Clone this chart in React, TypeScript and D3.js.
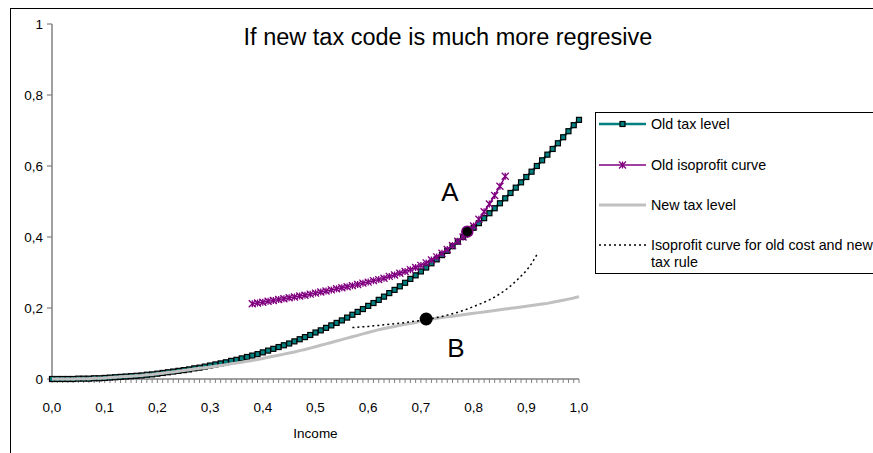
import * as d3 from "d3";

// x categories (income), one every 0.01
const income = [
  0.0, 0.01, 0.02, 0.03, 0.04, 0.05, 0.06, 0.07, 0.08, 0.09,
  0.1, 0.11, 0.12, 0.13, 0.14, 0.15, 0.16, 0.17, 0.18, 0.19,
  0.2, 0.21, 0.22, 0.23, 0.24, 0.25, 0.26, 0.27, 0.28, 0.29,
  0.3, 0.31, 0.32, 0.33, 0.34, 0.35, 0.36, 0.37, 0.38, 0.39,
  0.4, 0.41, 0.42, 0.43, 0.44, 0.45, 0.46, 0.47, 0.48, 0.49,
  0.5, 0.51, 0.52, 0.53, 0.54, 0.55, 0.56, 0.57, 0.58, 0.59,
  0.6, 0.61, 0.62, 0.63, 0.64, 0.65, 0.66, 0.67, 0.68, 0.69,
  0.7, 0.71, 0.72, 0.73, 0.74, 0.75, 0.76, 0.77, 0.78, 0.79,
  0.8, 0.81, 0.82, 0.83, 0.84, 0.85, 0.86, 0.87, 0.88, 0.89,
  0.9, 0.91, 0.92, 0.93, 0.94, 0.95, 0.96, 0.97, 0.98, 0.99,
  1.0,
];

const xTicks = [0, 0.1, 0.2, 0.3, 0.4, 0.5, 0.6, 0.7, 0.8, 0.9, 1];
const xTickLabels = ["0,0", "0,1", "0,2", "0,3", "0,4", "0,5", "0,6", "0,7", "0,8", "0,9", "1,0"];
const yTicks = [0, 0.2, 0.4, 0.6, 0.8, 1];
const yTickLabels = ["0", "0,2", "0,4", "0,6", "0,8", "1"];

const oldTax = [
  0, 0, 0, 0, 0, 0.001, 0.001, 0.001, 0.002, 0.002,
  0.003, 0.004, 0.005, 0.006, 0.007, 0.008, 0.009, 0.01, 0.012, 0.013,
  0.015, 0.017, 0.019, 0.021, 0.023, 0.025, 0.027, 0.03, 0.032, 0.035,
  0.038, 0.041, 0.044, 0.047, 0.051, 0.054, 0.058, 0.062, 0.066, 0.07,
  0.075, 0.08, 0.085, 0.09, 0.095, 0.1, 0.106, 0.112, 0.118, 0.124,
  0.131, 0.137, 0.144, 0.151, 0.158, 0.165, 0.173, 0.181, 0.189, 0.197,
  0.206, 0.214, 0.223, 0.232, 0.242, 0.251, 0.261, 0.271, 0.282, 0.292,
  0.303, 0.314, 0.326, 0.337, 0.349, 0.361, 0.374, 0.387, 0.4, 0.413,
  0.426, 0.439, 0.453, 0.467, 0.481, 0.495, 0.509, 0.524, 0.539, 0.554,
  0.569, 0.584, 0.6, 0.616, 0.632, 0.648, 0.664, 0.681, 0.698, 0.715,
  0.73,
];

const newTax = [
  0, 0, 0, 0, 0, 0.001, 0.001, 0.001, 0.002, 0.002,
  0.003, 0.004, 0.005, 0.006, 0.007, 0.008, 0.009, 0.01, 0.012, 0.013,
  0.015, 0.016, 0.018, 0.02, 0.022, 0.024, 0.026, 0.028, 0.03, 0.032,
  0.034, 0.036, 0.038, 0.04, 0.043, 0.045, 0.047, 0.05, 0.052, 0.055,
  0.058, 0.061, 0.064, 0.067, 0.07, 0.073, 0.076, 0.08, 0.083, 0.087,
  0.091, 0.095, 0.099, 0.103, 0.107, 0.111, 0.115, 0.119, 0.123, 0.127,
  0.131, 0.135, 0.139, 0.142, 0.145, 0.148, 0.151, 0.154, 0.156, 0.159,
  0.163, 0.167, 0.169, 0.171, 0.173, 0.175, 0.177, 0.179, 0.181, 0.183,
  0.185, 0.187, 0.189, 0.191, 0.193, 0.195, 0.197, 0.199, 0.201, 0.203,
  0.205, 0.207, 0.209, 0.211, 0.213, 0.216, 0.219, 0.222, 0.225, 0.228,
  0.232,
];

// income 0.38 ... 0.86
const oldIsoprofit = [
  0.212, 0.214,
  0.216, 0.219, 0.221, 0.224, 0.226, 0.229, 0.231, 0.234, 0.236, 0.239,
  0.242, 0.245, 0.248, 0.251, 0.254, 0.257, 0.26, 0.263, 0.266, 0.27,
  0.273, 0.277, 0.28, 0.284, 0.289, 0.293, 0.298, 0.303, 0.308, 0.314,
  0.32, 0.327, 0.335, 0.344, 0.354, 0.365, 0.376, 0.388, 0.4, 0.414,
  0.431, 0.45, 0.471, 0.493, 0.517, 0.543, 0.571,
];

// income 0.57 ... 0.92
const newIsoprofit = [
  0.145, 0.146, 0.147, 0.148, 0.15, 0.151, 0.153, 0.154, 0.156, 0.157,
  0.159, 0.161, 0.163, 0.165, 0.168, 0.17, 0.173, 0.176, 0.18, 0.184,
  0.188, 0.193, 0.198, 0.204, 0.21, 0.216, 0.223, 0.231, 0.24, 0.25,
  0.262, 0.275, 0.29, 0.305, 0.325, 0.35,
];

const seriesNames = [
  "Old tax level",
  "Old isoprofit curve",
  "New tax level",
  "Isoprofit curve for old cost and new",
];

const pointLabels = ["A", "B"];
const pointIncome = [0.788, 0.71];
const pointValue = [0.415, 0.169];

const TEAL = "#008080";
const PURPLE = "#800080";
const GRAY = "#c0c0c0";
const FONT = "'Liberation Sans', Arial, sans-serif";

const starPath = (r: number) =>
  `M${-r},${-r}L${r},${r}M${-r},${r}L${r},${-r}M0,${-r}L0,${r}`;

export default function App() {
  const width = 873;
  const height = 453;

  const x = d3.scaleLinear().domain([0, 1]).range([52, 579]);
  const y = d3.scaleLinear().domain([0, 1]).range([379, 24]);
  const line = d3
    .line<[number, number]>()
    .x((d) => x(d[0]))
    .y((d) => y(d[1]));

  const oldTaxPts = income.map((v, i) => [v, oldTax[i]] as [number, number]);
  const newTaxPts = income.map((v, i) => [v, newTax[i]] as [number, number]);
  const isoIncome = income.slice(38, 38 + oldIsoprofit.length);
  const isoPts = isoIncome.map((v, i) => [v, oldIsoprofit[i]] as [number, number]);
  const newIsoIncome = income.slice(57, 57 + newIsoprofit.length);
  const newIsoPts = newIsoIncome.map((v, i) => [v, newIsoprofit[i]] as [number, number]);

  const legendY = [124, 165, 205, 245];

  return (
    <svg
      width={width}
      height={height}
      style={{ position: "absolute", left: 0, top: 0, background: "#fff" }}
      fontFamily={FONT}
    >
      <rect x={10.5} y={8.5} width={900} height={500} fill="#fff" stroke="#000" />

      <text x={448} y={45} fontSize={23.5} textAnchor="middle">
        If new tax code is much more regresive
      </text>

      {/* y axis */}
      <line x1={x(0)} x2={x(0)} y1={y(1)} y2={y(0)} stroke="#808080" strokeWidth={1.5} />
      {yTicks.map((t, i) => (
        <g key={t}>
          <line x1={x(0) - 5} x2={x(0)} y1={y(t)} y2={y(t)} stroke="#808080" strokeWidth={1.2} />
          <text x={43} y={y(t)} dy="0.35em" fontSize={13.5} textAnchor="end">
            {yTickLabels[i]}
          </text>
        </g>
      ))}

      {/* x axis */}
      <line x1={x(0)} x2={x(1)} y1={y(0)} y2={y(0)} stroke="#808080" strokeWidth={1.5} />
      {income.map((v) => (
        <line key={v} x1={x(v)} x2={x(v)} y1={y(0)} y2={y(0) + 4} stroke="#808080" strokeWidth={1} />
      ))}
      {xTicks.map((t, i) => (
        <text key={t} x={x(t)} y={412} fontSize={13.5} textAnchor="middle">
          {xTickLabels[i]}
        </text>
      ))}
      <text x={x(0.5)} y={438} fontSize={13.5} textAnchor="middle">
        Income
      </text>

      {/* old tax level */}
      <path d={line(oldTaxPts) ?? ""} fill="none" stroke={TEAL} strokeWidth={2.5} />
      {oldTaxPts.map((d, i) => (
        <rect
          key={i}
          x={x(d[0]) - 2.5}
          y={y(d[1]) - 2.5}
          width={5}
          height={5}
          fill={TEAL}
          stroke="#000"
          strokeWidth={1.2}
        />
      ))}

      {/* old isoprofit */}
      <path d={line(isoPts) ?? ""} fill="none" stroke={PURPLE} strokeWidth={1.5} />
      {isoPts.map((d, i) => (
        <path
          key={i}
          d={starPath(3.5)}
          transform={`translate(${x(d[0])},${y(d[1])})`}
          stroke={PURPLE}
          strokeWidth={1.3}
          fill="none"
        />
      ))}

      {/* new tax level */}
      <path d={line(newTaxPts) ?? ""} fill="none" stroke={GRAY} strokeWidth={3} />

      {/* isoprofit for old cost and new tax rule */}
      <path
        d={line(newIsoPts) ?? ""}
        fill="none"
        stroke="#000"
        strokeWidth={1.5}
        strokeDasharray="2,3"
      />

      {/* A and B */}
      <circle cx={x(pointIncome[0])} cy={y(pointValue[0])} r={5.5} fill="#000" stroke={PURPLE} strokeWidth={1.5} />
      <circle cx={x(pointIncome[1])} cy={y(pointValue[1])} r={6.5} fill="#000" />
      <text x={450} y={201} fontSize={26} textAnchor="middle">
        {pointLabels[0]}
      </text>
      <text x={456} y={357} fontSize={26} textAnchor="middle">
        {pointLabels[1]}
      </text>

      {/* legend */}
      <rect x={595.5} y={112.5} width={300} height={161} fill="#fff" stroke="#000" />
      <line x1={599} x2={646} y1={legendY[0]} y2={legendY[0]} stroke={TEAL} strokeWidth={2.5} />
      <rect x={620} y={legendY[0] - 2.5} width={5} height={5} fill={TEAL} stroke="#000" strokeWidth={1.2} />
      <line x1={599} x2={646} y1={legendY[1]} y2={legendY[1]} stroke={PURPLE} strokeWidth={1.5} />
      <path
        d={starPath(3.5)}
        transform={`translate(622.5,${legendY[1]})`}
        stroke={PURPLE}
        strokeWidth={1.3}
        fill="none"
      />
      <line x1={599} x2={646} y1={legendY[2]} y2={legendY[2]} stroke={GRAY} strokeWidth={3} />
      <line
        x1={599}
        x2={646}
        y1={legendY[3]}
        y2={legendY[3]}
        stroke="#000"
        strokeWidth={1.5}
        strokeDasharray="2,3"
      />
      {seriesNames.map((n, i) => (
        <text key={n} x={651} y={legendY[i]} dy="0.35em" fontSize={14.3}>
          {n}
        </text>
      ))}
      <text x={651} y={legendY[3] + 17} dy="0.35em" fontSize={14.3}>
        tax rule
      </text>
    </svg>
  );
}
